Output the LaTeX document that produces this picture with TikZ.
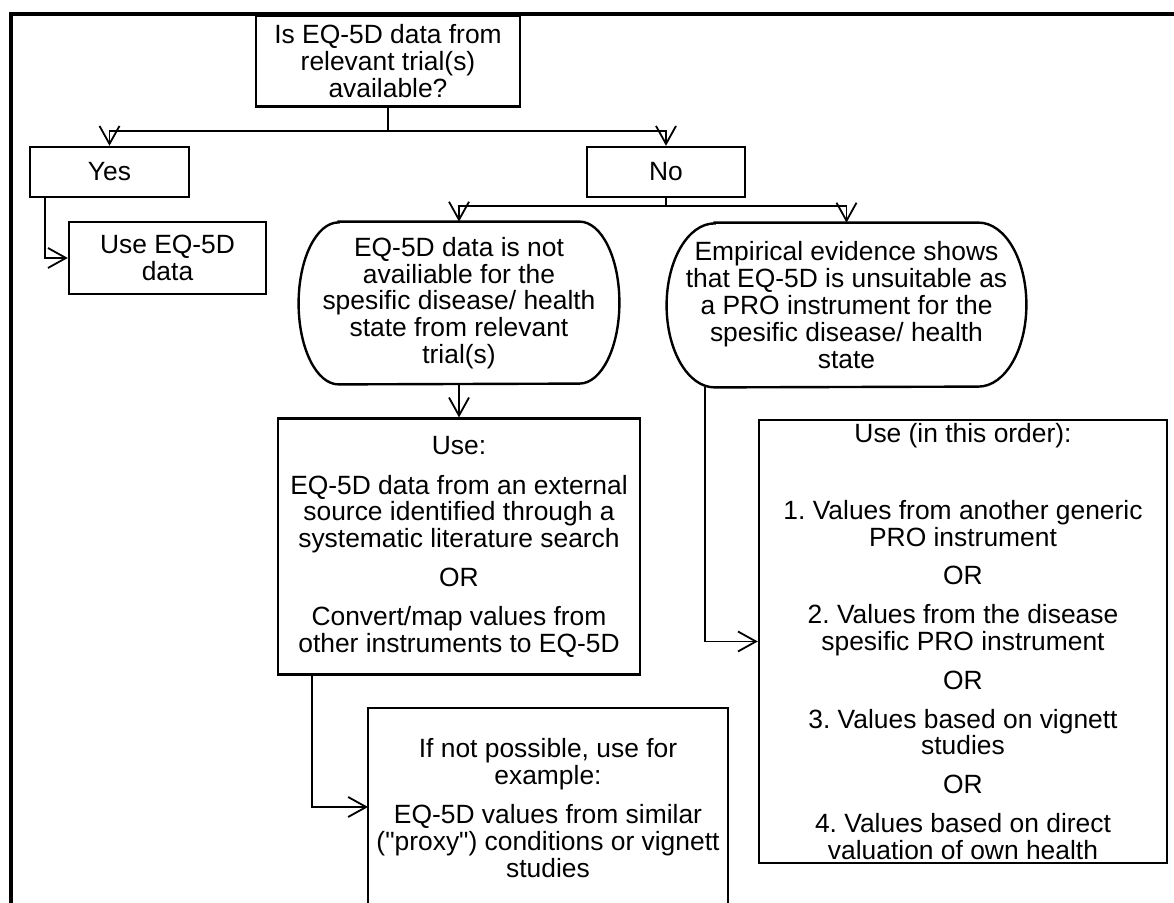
\documentclass[tikz,border=0pt]{standalone}
\usepackage{fontspec}
\setmainfont{Liberation Sans}
\usetikzlibrary{arrows.meta,positioning}

\begin{document}
\frenchspacing
\begin{tikzpicture}[x=0.5pt,y=-0.5pt,font=\fontsize{13.2pt}{13.4pt}\selectfont]
%one unit = one pixel of the 1174x903 page
\tikzstyle{box}=[draw, line width=1.2pt, align=center, inner sep=0pt]
\tikzstyle{stad}=[align=center, inner sep=0pt]
\tikzstyle{arr}=[line width=0.9pt, -{Straight Barb[length=9pt,width=10pt]}]
\useasboundingbox (0,0) rectangle (1174,903);
\draw[line width=1.9pt] (11,930) -- (11,14) -- (1190,14);

\node[box, minimum width=132pt, minimum height=45.5pt](A) at (388,61) {Is EQ-5D data from\\relevant trial(s)\\available?};
\node[box, minimum width=79.5pt, minimum height=25pt](B) at (109.5,172) {Yes};
\node[box, minimum width=79pt, minimum height=25pt](C) at (666,172) {No};
\node[box, minimum width=98.5pt, minimum height=36pt](D) at (167.5,258) {Use EQ-5D\\data};
\node[stad, minimum width=160pt, minimum height=81pt](E) at (459,303) {EQ-5D data is not\\availiable for the\\spesific disease/ health\\state from relevant\\trial(s)};
\node[stad, minimum width=179.5pt, minimum height=82pt](F) at (846.5,305) {Empirical evidence shows\\that EQ-5D is unsuitable as\\a PRO instrument for the\\spesific disease/ health\\state};
\node[box, minimum width=181pt, minimum height=128pt](G) [below = 16.5pt of E] {Use:\\[6.5pt]EQ-5D data from an external\\source identified through a\\systematic literature search\\[6pt]OR\\[6pt]Convert/map values from\\other instruments to EQ-5D};
\node[box, minimum width=180pt, inner ysep=15pt, anchor=north](H) at (548,707) {If not possible, use for\\example:\\[6.5pt]EQ-5D values from similar\\(\textquotedbl proxy\textquotedbl) conditions or vignett\\studies\\[20pt]\mbox{}};
\node[box, minimum width=204pt, minimum height=221.5pt](I) at (963,641.5) {Use (in this order):\\[25pt]1. Values from another generic\\PRO instrument\\[6pt]OR\\[6pt]2. Values from the disease\\spesific PRO instrument\\[6pt]OR\\[6pt]3. Values based on vignett\\studies\\[6pt]OR\\[6pt]4. Values based on direct\\valuation of own health};

%rounded ends of the two middle boxes
\draw[line width=1.2pt] ([xshift=20pt]E.north west) -- ([xshift=-20pt]E.north east) arc[start angle=90, end angle=-90, x radius=20pt, y radius=40.5pt] -- ([xshift=20pt]E.south west) arc[start angle=270, end angle=90, x radius=20pt, y radius=40.5pt] -- cycle;
\draw[line width=1.2pt] ([xshift=24pt]F.north west) -- ([xshift=-24pt]F.north east) arc[start angle=90, end angle=-90, x radius=24pt, y radius=41pt] -- ([xshift=24pt]F.south west) arc[start angle=270, end angle=90, x radius=24pt, y radius=41pt] -- cycle;

\coordinate (AS) at (388,131);
\coordinate (CS) at (666,206);
\coordinate (HW) at (368,807);
\draw[arr] (A.south) -- (AS) -| (B.north);
\draw[arr] (AS) -| (C.north);
\draw[arr] (C.south) -- (CS) -| (E.north);
\draw[arr] (CS) -| (F.north);
\draw[arr] (B.south west) ++(16,0) |- (D.west);
\draw[arr] (E) -- (G);
\draw[arr] (G.south west) ++(35,0) |- (HW);
\draw[arr] (F.south west) ++(38,0) |- (I.west);
\end{tikzpicture}
\end{document}
